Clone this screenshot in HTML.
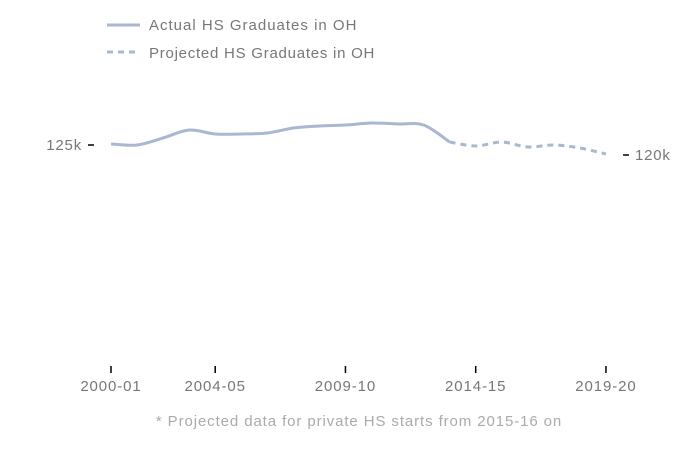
<!DOCTYPE html>
<html><head><meta charset="utf-8"><style>
body{margin:0;background:#fff;font-family:"Liberation Sans",sans-serif;}
svg text{font-family:"Liberation Sans",sans-serif;fill:#777;}
</style></head><body>
<svg id="c" width="700" height="450">
<g>
<line x1="107" y1="25" x2="140" y2="25" stroke="#a9b7d0" stroke-width="3"/>
<text x="149" y="30" font-size="15" letter-spacing="1">Actual HS Graduates in OH</text>
<line x1="107" y1="52" x2="140" y2="52" stroke="#a9b7d0" stroke-width="3" stroke-dasharray="6,5"/>
<text x="149" y="58" font-size="15" letter-spacing="0.75">Projected HS Graduates in OH</text>
</g>
<text x="359" y="426" font-size="15" letter-spacing="0.9" text-anchor="middle" style="fill:#aaa">* Projected data for private HS starts from 2015-16 on</text>
</svg>
<script>
const actualYears=[2000,2001,2002,2003,2004,2005,2006,2007,2008,2009,2010,2011,2012,2013];
const actualValues=[125.5,125,128.5,132.5,130.5,130.5,131,133.5,134.5,135,136,135.5,135,126.5];
const projYears=[2013,2014,2015,2016,2017,2018,2019];
const projValues=[126.5,124.5,126.5,124,125,123.5,120.5];
const xTickYears=[2000,2004,2009,2014,2019];
const xTickLabels=["2000-01","2004-05","2009-10","2014-15","2019-20"];
const leftTick=125, rightTick=120;
const svg=document.getElementById('c');const NS="http://www.w3.org/2000/svg";
const xs=y=>111+(y-2000)*26.05;
const ys=v=>145-(v-125)*2;
function mk(t,a){const e=document.createElementNS(NS,t);for(const k in a)e.setAttribute(k,a[k]);svg.appendChild(e);return e;}
function path(px,py){let d=`M${px[0]},${py[0]}`;for(let i=0;i<px.length-1;i++){const p0=i?i-1:i,p3=i+2<px.length?i+2:i+1;
const c1x=px[i]+(px[i+1]-px[p0])/6,c1y=py[i]+(py[i+1]-py[p0])/6,c2x=px[i+1]-(px[p3]-px[i])/6,c2y=py[i+1]-(py[p3]-py[i])/6;
d+=` C${c1x},${c1y} ${c2x},${c2y} ${px[i+1]},${py[i+1]}`;}return d;}
let e=mk('path',{d:path(actualYears.map(xs),actualValues.map(ys)),fill:'none',stroke:'#a9b7d0','stroke-width':3});


e=mk('path',{d:path(projYears.map(xs),projValues.map(ys)),fill:'none',stroke:'#a9b7d0','stroke-width':3,'stroke-dasharray':'6,5'});


xTickYears.forEach((y,i)=>{const x=xs(y);
const t=mk('line',{x1:x,x2:x,y1:366,y2:373,stroke:'#000','stroke-width':1.5});


const l=mk('text',{x:x,y:391,'font-size':15,'letter-spacing':0.9,'text-anchor':'middle'});l.textContent=xTickLabels[i];

});
let t=mk('line',{x1:88,x2:94,y1:ys(leftTick),y2:ys(leftTick),stroke:'#000','stroke-width':1.5});


let l=mk('text',{x:82,y:ys(leftTick)+5,'font-size':15,'letter-spacing':0.8,'text-anchor':'end'});l.textContent=leftTick+'k';


t=mk('line',{x1:623,x2:629,y1:ys(rightTick),y2:ys(rightTick),stroke:'#000','stroke-width':1.5});


l=mk('text',{x:635,y:ys(rightTick)+5,'font-size':15,'letter-spacing':0.8});l.textContent=rightTick+'k';


</script>
</body></html>
